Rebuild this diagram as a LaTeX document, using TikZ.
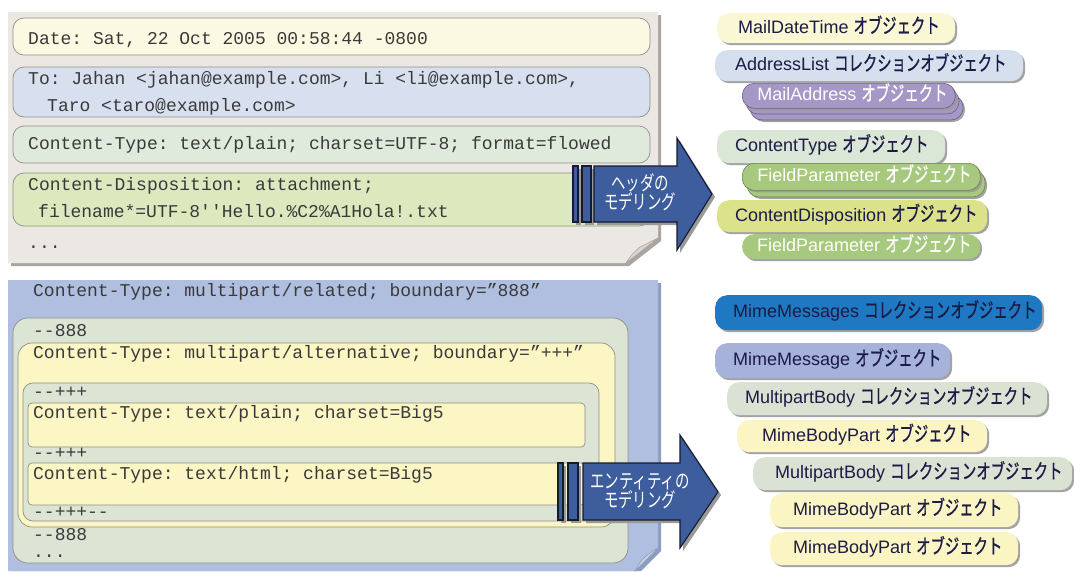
\documentclass[tikz,border=0pt]{standalone}
\usepackage{fontspec}
\setmonofont{Liberation Mono}
\newfontfamily\pilllatin{Liberation Sans}
\newfontfamily\pillkana[FakeStretch=0.7, FakeBold=0.8]{Noto Sans CJK JP}
\newfontfamily\arrowjp[FakeStretch=0.72]{Noto Sans CJK JP}
\usetikzlibrary{shadows}

\definecolor{cPanel}{HTML}{EBE8E4}
\definecolor{cPanelDark}{HTML}{ABA59F}
\definecolor{cPanelFold}{HTML}{D9D5D0}
\definecolor{cBluePanel}{HTML}{B0BFDF}
\definecolor{cBluePanelDark}{HTML}{8E9CBE}
\definecolor{cBlueFold}{HTML}{C7D2EA}
\definecolor{cDate}{HTML}{FBF9E1}
\definecolor{cTo}{HTML}{D8E0EF}
\definecolor{cCT}{HTML}{DFEADC}
\definecolor{cCD}{HTML}{DCE9BF}
\definecolor{cGreen}{HTML}{DCE4D4}
\definecolor{cYellow}{HTML}{FCF5C4}
\definecolor{cEdge}{HTML}{8F8F85}
\definecolor{cMono}{HTML}{3A3A3A}
\definecolor{cArrow}{HTML}{3E5D9D}
\definecolor{cArrowEdge}{HTML}{141B30}
\definecolor{cNavy}{HTML}{1B1B45}
\definecolor{pDate}{HTML}{FAF7D5}
\definecolor{pAddr}{HTML}{D6DFEE}
\definecolor{pMail}{HTML}{A597C6}
\definecolor{pCT}{HTML}{DAE6D6}
\definecolor{pField}{HTML}{A7C97E}
\definecolor{pCD}{HTML}{DCE28A}
\definecolor{pMsgs}{HTML}{1E78C2}
\definecolor{pMsg}{HTML}{A6B2D9}
\definecolor{pBody}{HTML}{DAE3D3}
\definecolor{pPart}{HTML}{FBF4C3}

% fixed-width, left-aligned label inside a pill: class name + Japanese kind
\newcommand\pilltext[3]{\makebox[#1pt][l]{\pilllatin #2\hspace{5pt}{\pillkana\fontsize{20.5}{19}\selectfont #3}}}

\begin{document}
\begin{tikzpicture}[x=1pt,y=-1pt,
  mono/.style={font=\ttfamily\fontsize{18}{20}\selectfont, text=cMono, anchor=west,
               inner sep=0pt, text height=12pt, text depth=3pt, yshift=-2pt},
  box/.style={draw=cEdge, line width=0.7pt},
  softshadow/.style={drop shadow={shadow xshift=2pt,shadow yshift=-2pt,fill=black!40,opacity=0.9}},
  pill/.style={anchor=north west, rounded corners=12pt, inner ysep=0pt,
               font=\fontsize{18}{19}\selectfont, text=cNavy,
               text height=13.5pt, text depth=3.5pt, softshadow},
  pillback/.style={rounded corners=12pt, fill=#1, draw=#1!65!black, line width=0.6pt},
  arrowbody/.style={fill=cArrow, draw=cArrowEdge, line width=1.1pt,
               drop shadow={shadow xshift=3pt,shadow yshift=-3pt,fill=black!40,opacity=1}},
  arrowtext/.style={font=\arrowjp\fontsize{20}{19}\selectfont, text=white, align=center, inner sep=0pt},
]
\useasboundingbox (0,0) rectangle (1074,571);
\fill[white] (0,0) rectangle (1074,571);

% ---------- header sheet ----------
\fill[cPanelDark] (11,15) -- (661,15) -- (661,241) -- (629,266) -- (11,266) -- cycle;
\fill[cPanel] (8,12) -- (658,12) -- (658,238) -- (626,263) -- (8,263) -- cycle;
\filldraw[fill=cPanelFold, draw=cPanelDark, line width=0.6pt]
  (658,238) -- (626,263) .. controls (632,254) .. (640,247) .. controls (648,243) .. (658,238) -- cycle;

\path[box, fill=cDate, rounded corners=11pt] (13,18) rectangle (650,55);
\path[box, fill=cTo,   rounded corners=11pt] (13,67) rectangle (650,117);
\path[box, fill=cCT,   rounded corners=11pt] (13,126) rectangle (650,163);
\path[box, fill=cCD,   rounded corners=11pt] (13,173) rectangle (650,226);

\node[mono] (hdate) at (28,38)  {Date: Sat, 22 Oct 2005 00:58:44 -0800};
\node[mono] (hto)   at (28,78)  {To: Jahan <jahan@example.com>, Li <li@example.com>,};
\node[mono] (hto2)  at (47,105) {Taro <taro@example.com>};
\node[mono] (hct)   at (28,143) {Content-Type: text/plain; charset=UTF-8; format=flowed};
\node[mono] (hcd)   at (28,184) {Content-Disposition: attachment;};
\node[mono] (hcd2)  at (38,211) {filename*=UTF-8''Hello.\%C2\%A1Hola!.txt};
\node[mono] (hdots) at (28,242) {...};

% ---------- entity sheet ----------
\fill[cBluePanelDark] (11,283) -- (661,283) -- (661,551) -- (641,571) -- (11,571) -- cycle;
\fill[cBluePanel] (8,280) -- (658,280) -- (658,548) -- (635,571) -- (8,571) -- cycle;
\filldraw[fill=cBlueFold, draw=cBluePanelDark, line width=0.6pt]
  (658,548) -- (635,571) .. controls (640,562) .. (646,556) .. controls (651,552) .. (658,548) -- cycle;

\path[box, fill=cGreen,  rounded corners=15pt] (13,318) rectangle (628,563);
\path[box, fill=cYellow, rounded corners=14pt] (18,343) rectangle (615,527);
\path[box, fill=cGreen,  rounded corners=10pt] (23,383) rectangle (599,521);
\path[box, fill=cYellow, rounded corners=4pt]  (28,403) rectangle (585,447);
\path[box, fill=cYellow, rounded corners=4pt]  (28,463) rectangle (585,505);

\node[mono] (brel)  at (33,290) {Content-Type: multipart/related; boundary=”888”};
\node[mono] (bb1)   at (33,330) {--888};
\node[mono] (balt)  at (33,352) {Content-Type: multipart/alternative; boundary=”+++”};
\node[mono] (bb2)   at (33,391) {--+++};
\node[mono] (bpl)   at (33,412) {Content-Type: text/plain; charset=Big5};
\node[mono] (bb3)   at (33,452) {--+++};
\node[mono] (bhtml) at (33,473) {Content-Type: text/html; charset=Big5};
\node[mono] (bb4)   at (33,511) {--+++--};
\node[mono] (bb5)   at (33,534) {--888};
\node[mono] (bdots) at (33,551) {...};

% ---------- modelling arrows ----------
\path[arrowbody] (573,166) rectangle (578,222);
\path[arrowbody] (582,166) rectangle (591,222);
\path[arrowbody] (594,166) -- (677,166) -- (677,138) -- (712,194) -- (677,250) -- (677,222) -- (594,222) -- cycle;
\node[arrowtext] (hdrlbl) at (640,192) {ヘッダの\\モデリング};

\path[arrowbody] (558,463) rectangle (563,520);
\path[arrowbody] (568,463) rectangle (578,520);
\path[arrowbody] (583,463) -- (680,463) -- (680,435) -- (718,492) -- (680,548) -- (680,520) -- (583,520) -- cycle;
\node[arrowtext] (entlbl) at (640,491) {エンティティの\\モデリング};

% ---------- header objects ----------
\node[pill, fill=pDate, inner xsep=21pt, minimum height=30pt] (omdt) at (717,13)
  {\pilltext{196}{MailDateTime}{オブジェクト}};
\node[pill, fill=pAddr, inner xsep=20pt, minimum height=31pt] (oaddr) at (715,50)
  {\pilltext{268}{AddressList}{コレクションオブジェクト}};
\path[pillback=pMail, softshadow] (750,95) rectangle (963,120);
\path[pillback=pMail] (746,89) rectangle (959,114);
\node[pill, fill=pMail, text=white, inner xsep=15pt, minimum height=25pt, draw=pMail!65!black, line width=0.6pt] (omail) at (742,83)
  {\pilltext{183}{MailAddress}{オブジェクト}};
\node[pill, fill=pCT, inner xsep=18pt, minimum height=33pt] (oct) at (717,130)
  {\pilltext{192}{ContentType}{オブジェクト}};
\path[pillback=pField, softshadow] (747,170) rectangle (985,197);
\node[pill, fill=pField, text=white, inner xsep=15pt, minimum height=27pt, draw=pField!65!black, line width=0.6pt] (ofp1) at (742,163)
  {\pilltext{208}{FieldParameter}{オブジェクト}};
\node[pill, fill=pCD, inner xsep=18pt, minimum height=32pt] (ocd) at (717,200)
  {\pilltext{234}{ContentDisposition}{オブジェクト}};
\node[pill, fill=pField, text=white, inner xsep=15pt, minimum height=25pt] (ofp2) at (742,234)
  {\pilltext{208}{FieldParameter}{オブジェクト}};

% ---------- entity objects ----------
\node[pill, fill=pMsgs, inner xsep=18pt, minimum height=35pt] (omsgs) at (715,295)
  {\pilltext{291}{MimeMessages}{コレクションオブジェクト}};
\node[pill, fill=pMsg, inner xsep=18pt, minimum height=35pt] (omsg) at (715,343)
  {\pilltext{199}{MimeMessage}{オブジェクト}};
\node[pill, fill=pBody, inner xsep=18pt, minimum height=33pt] (obody1) at (727,382)
  {\pilltext{284}{MultipartBody}{コレクションオブジェクト}};
\node[pill, fill=pPart, inner xsep=25pt, minimum height=32pt] (opart1) at (737,420)
  {\pilltext{200}{MimeBodyPart}{オブジェクト}};
\node[pill, fill=pBody, inner xsep=22pt, minimum height=33pt] (obody2) at (753,457)
  {\pilltext{275}{MultipartBody}{コレクションオブジェクト}};
\node[pill, fill=pPart, inner xsep=23pt, minimum height=34pt] (opart2) at (770,493)
  {\pilltext{202}{MimeBodyPart}{オブジェクト}};
\node[pill, fill=pPart, inner xsep=23pt, minimum height=33pt] (opart3) at (770,532)
  {\pilltext{202}{MimeBodyPart}{オブジェクト}};
\end{tikzpicture}
\end{document}
